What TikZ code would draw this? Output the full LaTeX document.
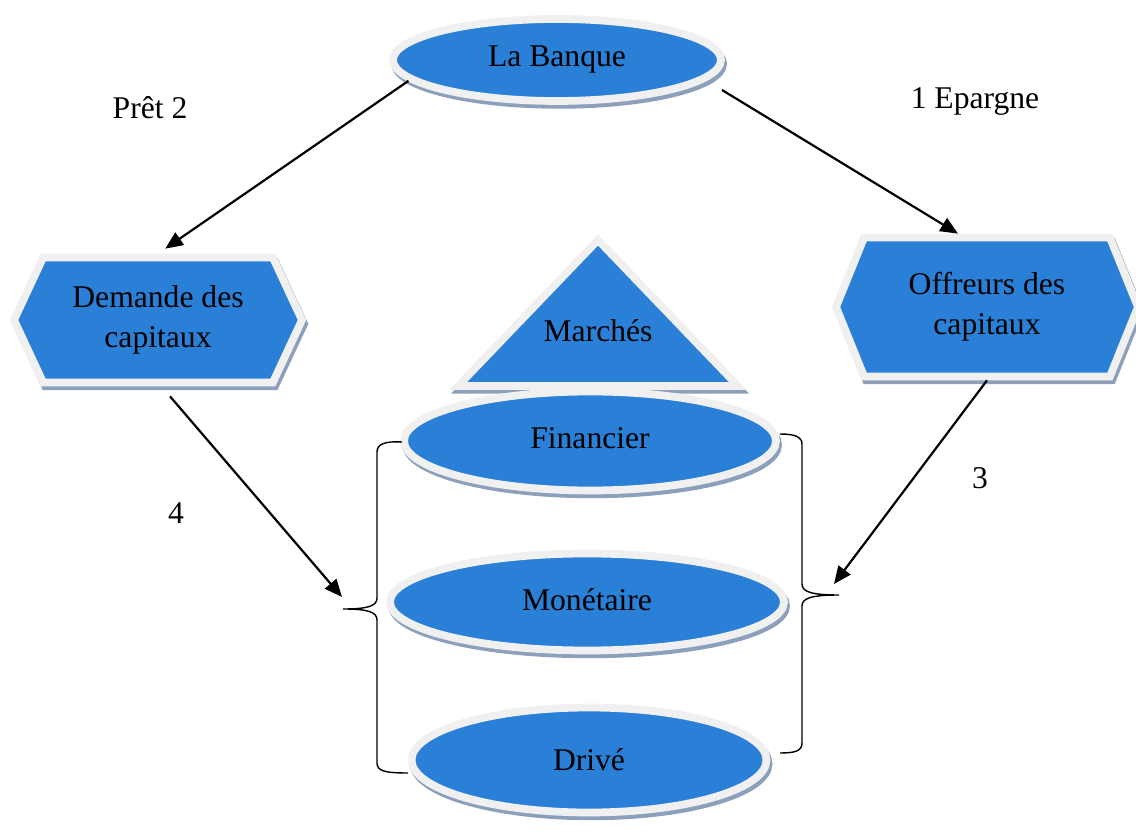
\documentclass[tikz,border=0pt]{standalone}
\usepackage{fontspec}
\setmainfont{Liberation Serif}
\usetikzlibrary{arrows.meta,shapes.geometric,shapes.symbols,shadows}
\definecolor{bleubanque}{RGB}{42,127,214}
\definecolor{bordclair}{RGB}{240,240,240}
\definecolor{ombrebleue}{RGB}{140,160,188}

\begin{document}
\begin{tikzpicture}[
    x=0.02cm, y=-0.02cm,
    >={Triangle[length=10pt,width=8.5pt]},
    every node/.style={font=\fontsize{18}{22.7}\selectfont},
    forme/.style={fill=bleubanque, draw=bordclair, line width=4.4pt,
      drop shadow={shadow xshift=1.2pt, shadow yshift=-2.2pt, opacity=1,
        fill=ombrebleue, draw=ombrebleue, line width=4.4pt}},
    bulle/.style={forme, ellipse, inner sep=0pt},
    hexa/.style={forme, signal, signal to=east and west, align=center,
      inner sep=0pt},
    fleche/.style={->, line width=1.25pt},
    accolade/.style={line width=0.8pt},
  ]
    \useasboundingbox (0,0) rectangle (1136,834);

    % La banque
    \node[bulle, minimum width=6.56cm, minimum height=1.64cm] (banque) at (557,60) {La Banque};

    % Demandeurs et offreurs
    \node[hexa, minimum width=5.76cm, minimum height=2.5cm, signal pointer angle=130] (demande) at (158,320) {Demande des\\capitaux};
    \node[hexa, minimum width=6.04cm, minimum height=2.78cm, signal pointer angle=136] (offre) at (987,307) {Offreurs des\\capitaux};

    % Marches
    \draw[forme] (598,240) -- (738,386) -- (458,386) -- cycle;
    \node (marches) at (598,331) {Marchés};
    \node[bulle, minimum width=7.44cm, minimum height=1.98cm] (financier) at (590,441) {\raisebox{3.4pt}{Financier}};
    \node[bulle, minimum width=7.88cm, minimum height=1.94cm] (monetaire) at (587,602) {\raisebox{2.3pt}{Monétaire}};
    \node[bulle, minimum width=7.1cm, minimum height=2.1cm] (drive) at (589,760) {\raisebox{1pt}{Drivé}};

    % Accolades
    \coordinate (pointe-g) at (343,609);
    \coordinate (pointe-d) at (839,595);
    \draw[accolade] (402,442) .. controls (385,441) and (377,444) .. (377,452) -- (377,598)
      .. controls (377,606) and (368,609) .. (pointe-g)
      .. controls (368,609) and (377,612) .. (377,620) -- (377,763)
      .. controls (377,771) and (385,773) .. (408,773);
    \draw[accolade] (780,434) .. controls (795,434) and (802,437) .. (802,444) -- (802,584)
      .. controls (802,592) and (812,595) .. (pointe-d)
      .. controls (812,595) and (802,598) .. (802,606) -- (802,743)
      .. controls (802,751) and (795,753) .. (780,753);

    % Fleches
    \coordinate (depart-e) at (722,90);
    \coordinate (fin-g) at (342,597);
    \coordinate (fin-d) at (834,584);
    \draw[fleche, shorten >=5pt] (banque.188) -- (demande.north);
    \draw[fleche] (depart-e) -- ([xshift=-0.58cm]offre.north);
    \draw[fleche] ([xshift=0.24cm, yshift=-0.2cm]demande.south) -- (fin-g);
    \draw[fleche] (offre.south) -- (fin-d);

    % Etiquettes
    \node (pret) at (150,108) {Prêt 2};
    \node (epargne) at (975,101) {1 Epargne};
    \node (n4) at (176,513) {4};
    \node (n3) at (980,478) {3};
\end{tikzpicture}
\end{document}
